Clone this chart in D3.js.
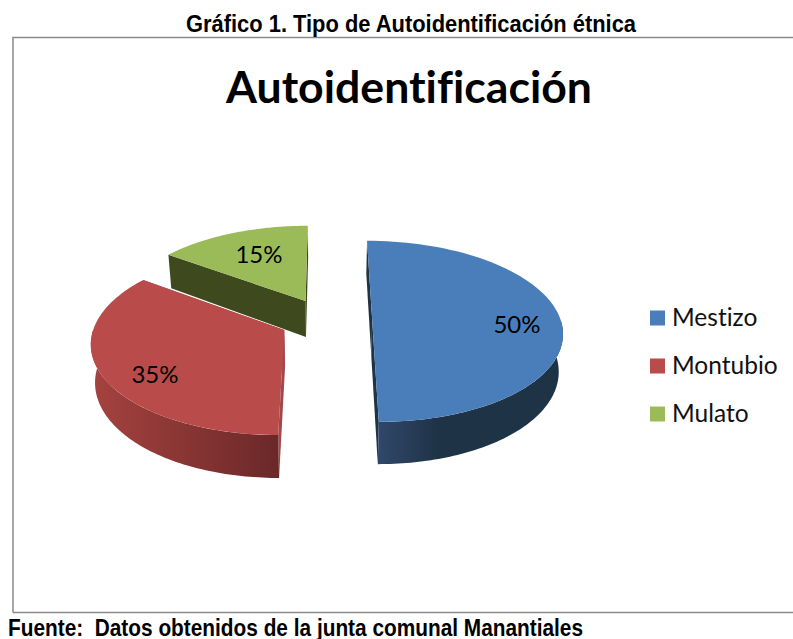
<!DOCTYPE html>
<html><head><meta charset="utf-8">
<script src="https://cdn.jsdelivr.net/npm/d3@7"></script>
<style>html,body{margin:0;padding:0;background:#fff}svg{display:block}text{font-variant-ligatures:none}</style>
</head><body><svg id="c" width="793" height="639"></svg>
<script>
const categories = ["Mestizo", "Montubio", "Mulato"];
const values = [50, 35, 15];
const valueLabels = ["50%", "35%", "15%"];
const topColors = ["#4a7ebb", "#b94c4a", "#9bbb59"];
const wallLeft = ["#30476a", "#a5433f", "#3e4a1e"];
const wallRight = ["#1f3347", "#6b2829", "#3e4a1e"];

const W = 793, H = 639;
const svg = d3.select("#c");
const defs = svg.append("defs");

// layout of the 3D pie
const vx = 326, vy = -393, planeH = 713, persp = 8, K = 188.5, explode = 0.245, depth = 37, shrink = 0.018;
const colour = d3.scaleOrdinal(categories, topColors);
const slices = d3.pie().sort(null).value(d => d)(values);

const project = (X, Y, Z = 0) => {
  const s = persp / (persp - Y);
  return [vx + X * K * s * (1 - shrink * Z), vy + planeH * s + Z * depth * s];
};
const line = d3.line();
const rimPts = (d, a0, a1, Z) => {
  const m = (d.startAngle + d.endAngle) / 2;
  const ex = explode * Math.sin(m), ey = -explode * Math.cos(m);
  return d3.range(0, 1.0001, 1 / 80).map(t => {
    const a = a0 + (a1 - a0) * t;
    return project(ex + Math.sin(a), ey - Math.cos(a), Z);
  });
};
const centre = (d, Z) => {
  const m = (d.startAngle + d.endAngle) / 2;
  return project(explode * Math.sin(m), -explode * Math.cos(m), Z);
};
const edgePt = (d, a, Z) => rimPts(d, a, a, Z)[0];

const g = svg.append("g");
// radial inner faces + outer wall, then top surface
const order = [2, 0, 1];
order.forEach(i => {
  const d = slices[i];
  const c0 = centre(d, 0), c1 = centre(d, 1);
  [d.startAngle, d.endAngle].forEach(a => {
    const e0 = edgePt(d, a, 0), e1 = edgePt(d, a, 1);
    g.append("path").attr("d", line([c0, e0, e1, c1]) + "Z")
      .attr("fill", i === 1 ? "#a0494a" : wallRight[i]);
  });
  const a0 = Math.max(d.startAngle, Math.PI / 2), a1 = Math.min(d.endAngle, 3 * Math.PI / 2);
  if (a1 > a0) {
    const top = rimPts(d, a0, a1, 0), bot = rimPts(d, a0, a1, 1).reverse();
    const [lo, hi] = d3.extent(top, p => p[0]);
    const id = "wall" + i;
    const gr = defs.append("linearGradient").attr("id", id).attr("gradientUnits", "userSpaceOnUse")
      .attr("x1", lo).attr("x2", hi).attr("y1", 0).attr("y2", 0);
    if (i === 0) {
      gr.append("stop").attr("offset", 0).attr("stop-color", wallLeft[0]);
      gr.append("stop").attr("offset", 0.32).attr("stop-color", wallRight[0]);
      gr.append("stop").attr("offset", 1).attr("stop-color", wallRight[0]);
    } else {
      gr.append("stop").attr("offset", 0).attr("stop-color", wallLeft[i]);
      gr.append("stop").attr("offset", 1).attr("stop-color", wallRight[i]);
    }
    g.append("path").attr("d", line(top.concat(bot)) + "Z").attr("fill", `url(#${id})`);
  }
  g.append("path").attr("d", line([c0].concat(rimPts(d, d.startAngle, d.endAngle, 0))) + "Z")
    .attr("fill", colour(categories[i]));
});

// frame
svg.append("path").attr("d", line([[13, 612.5],[13, 37.5],[W + 2, 37.5]]))
  .attr("fill", "none").attr("stroke", "#8a8a8a").attr("stroke-width", 1.5);
svg.append("path").attr("d", line([[13, 612.5],[W + 2, 612.5]]))
  .attr("fill", "none").attr("stroke", "#8a8a8a").attr("stroke-width", 1.5);

// texts
const narrow = "'Liberation Sans',Arial,sans-serif";
svg.append("text").attr("x", 186).attr("y", 31.5)
  .attr("font-family", narrow).attr("font-weight", 700).attr("font-size", 24)
  .attr("textLength", 450).attr("lengthAdjust", "spacingAndGlyphs")
  .text("Gráfico 1. Tipo de Autoidentificación étnica");
svg.append("text").attr("x", 8).attr("y", 635.5)
  .attr("font-family", narrow).attr("font-weight", 700).attr("font-size", 23)
  .attr("textLength", 575).attr("lengthAdjust", "spacingAndGlyphs").style("white-space", "pre")
  .text("Fuente:  Datos obtenidos de la junta comunal Manantiales");
svg.append("text").attr("x", 226).attr("y", 103)
  .attr("font-family", "Lato,'Open Sans',sans-serif").attr("font-weight", 700).attr("font-size", 43)
  .attr("textLength", 366).attr("lengthAdjust", "spacingAndGlyphs")
  .text("Autoidentificación");

// value labels
const labelAt = [[517, 333], [155, 383], [259, 263]];
valueLabels.forEach((t, i) => {
  svg.append("text").attr("x", labelAt[i][0]).attr("y", labelAt[i][1]).attr("text-anchor", "middle")
    .attr("font-family", "Lato,'Open Sans',sans-serif").attr("font-size", 24).attr("fill", "#000").text(t);
});

// legend
const legendY = d3.scalePoint().domain(categories).range([318, 414]);
categories.forEach(c => {
  svg.append("rect").attr("x", 650).attr("y", legendY(c) - 7.5).attr("width", 15).attr("height", 15).attr("fill", colour(c));
  svg.append("text").attr("x", 672).attr("y", legendY(c) + 8)
    .attr("font-family", "Lato,'Open Sans',sans-serif").attr("font-size", 24.5).attr("fill", "#111").text(c);
});
</script></body></html>
